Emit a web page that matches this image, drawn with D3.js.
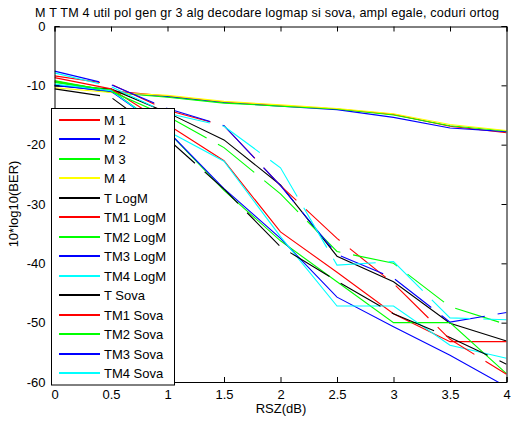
<!DOCTYPE html>
<html><head><meta charset="utf-8">
<script src="https://cdn.jsdelivr.net/npm/d3@7"></script>
<style>body{margin:0;background:#fff}svg{display:block;font-family:Arial,"Liberation Sans",sans-serif}</style>
</head><body><svg id="c" width="520" height="421"></svg>
<script>
const titleText = "M T TM 4 util pol gen gr 3 alg decodare logmap si sova, ampl egale, coduri ortog";
const xLabel = "RSZ(dB)";
const yLabel = "10*log10(BER)";
const xValues = [0, 0.5, 1, 1.5, 2, 2.5, 3, 3.5, 4];
const xTicks = [0, 0.5, 1, 1.5, 2, 2.5, 3, 3.5, 4];
const yTicks = [0, -10, -20, -30, -40, -50, -60];
const seriesNames = ["M 1","M 2","M 3","M 4","T LogM","TM1 LogM","TM2 LogM","TM3 LogM","TM4 LogM","T Sova","TM1 Sova","TM2 Sova","TM3 Sova","TM4 Sova"];
const m1 = [-9.3, -10.9, -11.8, -12.8, -13.4, -14.0, -14.9, -16.9, -18.0];
const m2 = [-9.9, -11.1, -11.9, -12.9, -13.5, -14.1, -15.4, -17.2, -17.8];
const m3 = [-9.4, -11.2, -12.0, -13.0, -13.5, -14.0, -15.0, -16.8, -17.7];
const m4 = [-10.4, -11.2, -11.7, -12.7, -13.3, -13.9, -14.8, -16.6, -17.6];
const tLogM = [-10.1, -10.6, -14.6, -19.2, -26.8, -38.8, -43.1, -50.1, -53.1];
const tm1LogM = [-8.7, -10.6, -16.6, -22.7, -34.7, -41.5, -48.5, -53.2, -53.2];
const tm2LogM = [-9.5, -10.8, -17.7, -27.7, -36.2, -43.1, -50.0, -50.0, -58.6];
const tm3LogM = [-10.0, -11.0, -17.7, -27.4, -35.8, -45.7, -50.7, -55.5, -60.8];
const tm4LogM = [-9.8, -10.9, -17.7, -22.8, -35.5, -47.2, -47.2, -53.8, -56.0];
const tSova = [-10.6, -12.0, -19.0, -27.5, -37.2, -43.0, -48.5, -52.5, -57.0];
const tm1Sova = [-8.4, -9.8, -14.2, -16.8, -26.9, -35.8, -43.4, -52.8, -58.7];
const tm2Sova = [-9.2, -11.0, -15.2, -20.5, -28.3, -38.0, -40.0, -47.3, -50.3];
const tm3Sova = [-7.6, -9.9, -13.9, -16.8, -26.9, -38.5, -42.5, -49.9, -48.3];
const tm4Sova = [-7.9, -10.2, -14.7, -16.9, -23.9, -40.3, -39.7, -49.2, -49.5];
const seriesValues = [m1,m2,m3,m4,tLogM,tm1LogM,tm2LogM,tm3LogM,tm4LogM,tSova,tm1Sova,tm2Sova,tm3Sova,tm4Sova];

const colors = ["#ff0000","#0000ff","#00ff00","#ffff00","#000000","#ff0000","#00ff00","#0000ff","#00ffff","#000000","#ff0000","#00ff00","#0000ff","#00ffff"];
const dashed = [false,false,false,false,false,false,false,false,false,true,true,true,true,true];

const L = 54.5, R = 506.5, T = 26, B = 382;
const svg = d3.select("#c");
const x = d3.scaleLinear().domain([0,4]).range([L,R]);
const y = d3.scaleLinear().domain([-60,0]).range([B,T]);

svg.append("defs").append("clipPath").attr("id","clip")
  .append("rect").attr("x",L).attr("y",T).attr("width",R-L).attr("height",B-T);

const line = d3.line().x((d,i)=>x(xValues[i])).y(d=>y(d));
const plot = svg.append("g").attr("clip-path","url(#clip)");
seriesValues.forEach((vals,k)=>{
  plot.append("path").datum(vals).attr("d",line)
    .attr("fill","none").attr("stroke",colors[k]).attr("stroke-width",1.1)
    .attr("stroke-dasharray", dashed[k] ? "46,13" : null);
});

const fs = "13px";
const gB = svg.append("g").attr("transform",`translate(0,${B})`)
  .call(d3.axisBottom(x).tickValues(xTicks).tickSize(-5).tickPadding(8).tickFormat(d=>String(d)));
const gT = svg.append("g").attr("transform",`translate(0,${T+0.5})`)
  .call(d3.axisTop(x).tickValues(xTicks).tickSize(-5).tickFormat(""));
const gL = svg.append("g").attr("transform",`translate(${L},0)`)
  .call(d3.axisLeft(y).tickValues(yTicks).tickSize(-5).tickPadding(9).tickFormat(d=>String(d)));
const gR = svg.append("g").attr("transform",`translate(${R},0)`)
  .call(d3.axisRight(y).tickValues(yTicks).tickSize(-5).tickFormat(""));
[gB,gT,gL,gR].forEach(g=>{
  g.select(".domain").attr("stroke","#000").attr("stroke-width",1);
  g.selectAll(".tick line").attr("stroke","#000");
  g.selectAll("text").attr("fill","#000").style("font-size",fs).style("font-family","Arial, 'Liberation Sans', sans-serif");
});
gB.selectAll(".tick text").attr("dy","0.71em");

svg.append("text").attr("x",35).attr("y",16.5).attr("text-anchor","start")
  .attr("textLength",464).attr("lengthAdjust","spacing")
  .style("font-size","12.6px").text(titleText);
svg.append("text").attr("x",281).attr("y",413).attr("text-anchor","middle")
  .style("font-size","13px").text(xLabel);
svg.append("text").attr("transform","translate(18,204) rotate(-90)").attr("text-anchor","middle")
  .style("font-size","13px").text(yLabel);

const lg = svg.append("g");
lg.append("rect").attr("x",51.5).attr("y",108.5).attr("width",123).attr("height",276.5)
  .attr("fill","#fff").attr("stroke","#000").attr("stroke-width",1);
const ly = d3.scaleLinear().domain([0,13]).range([120,373]);
seriesNames.forEach((n,k)=>{
  const yy = Math.round(ly(k));
  lg.append("line").attr("x1",59).attr("x2",100).attr("y1",yy).attr("y2",yy)
    .attr("stroke",colors[k]).attr("stroke-width",2);
  lg.append("text").attr("x",104).attr("y",yy).attr("dy","0.36em")
    .style("font-size","13px").text(n);
});
</script></body></html>
